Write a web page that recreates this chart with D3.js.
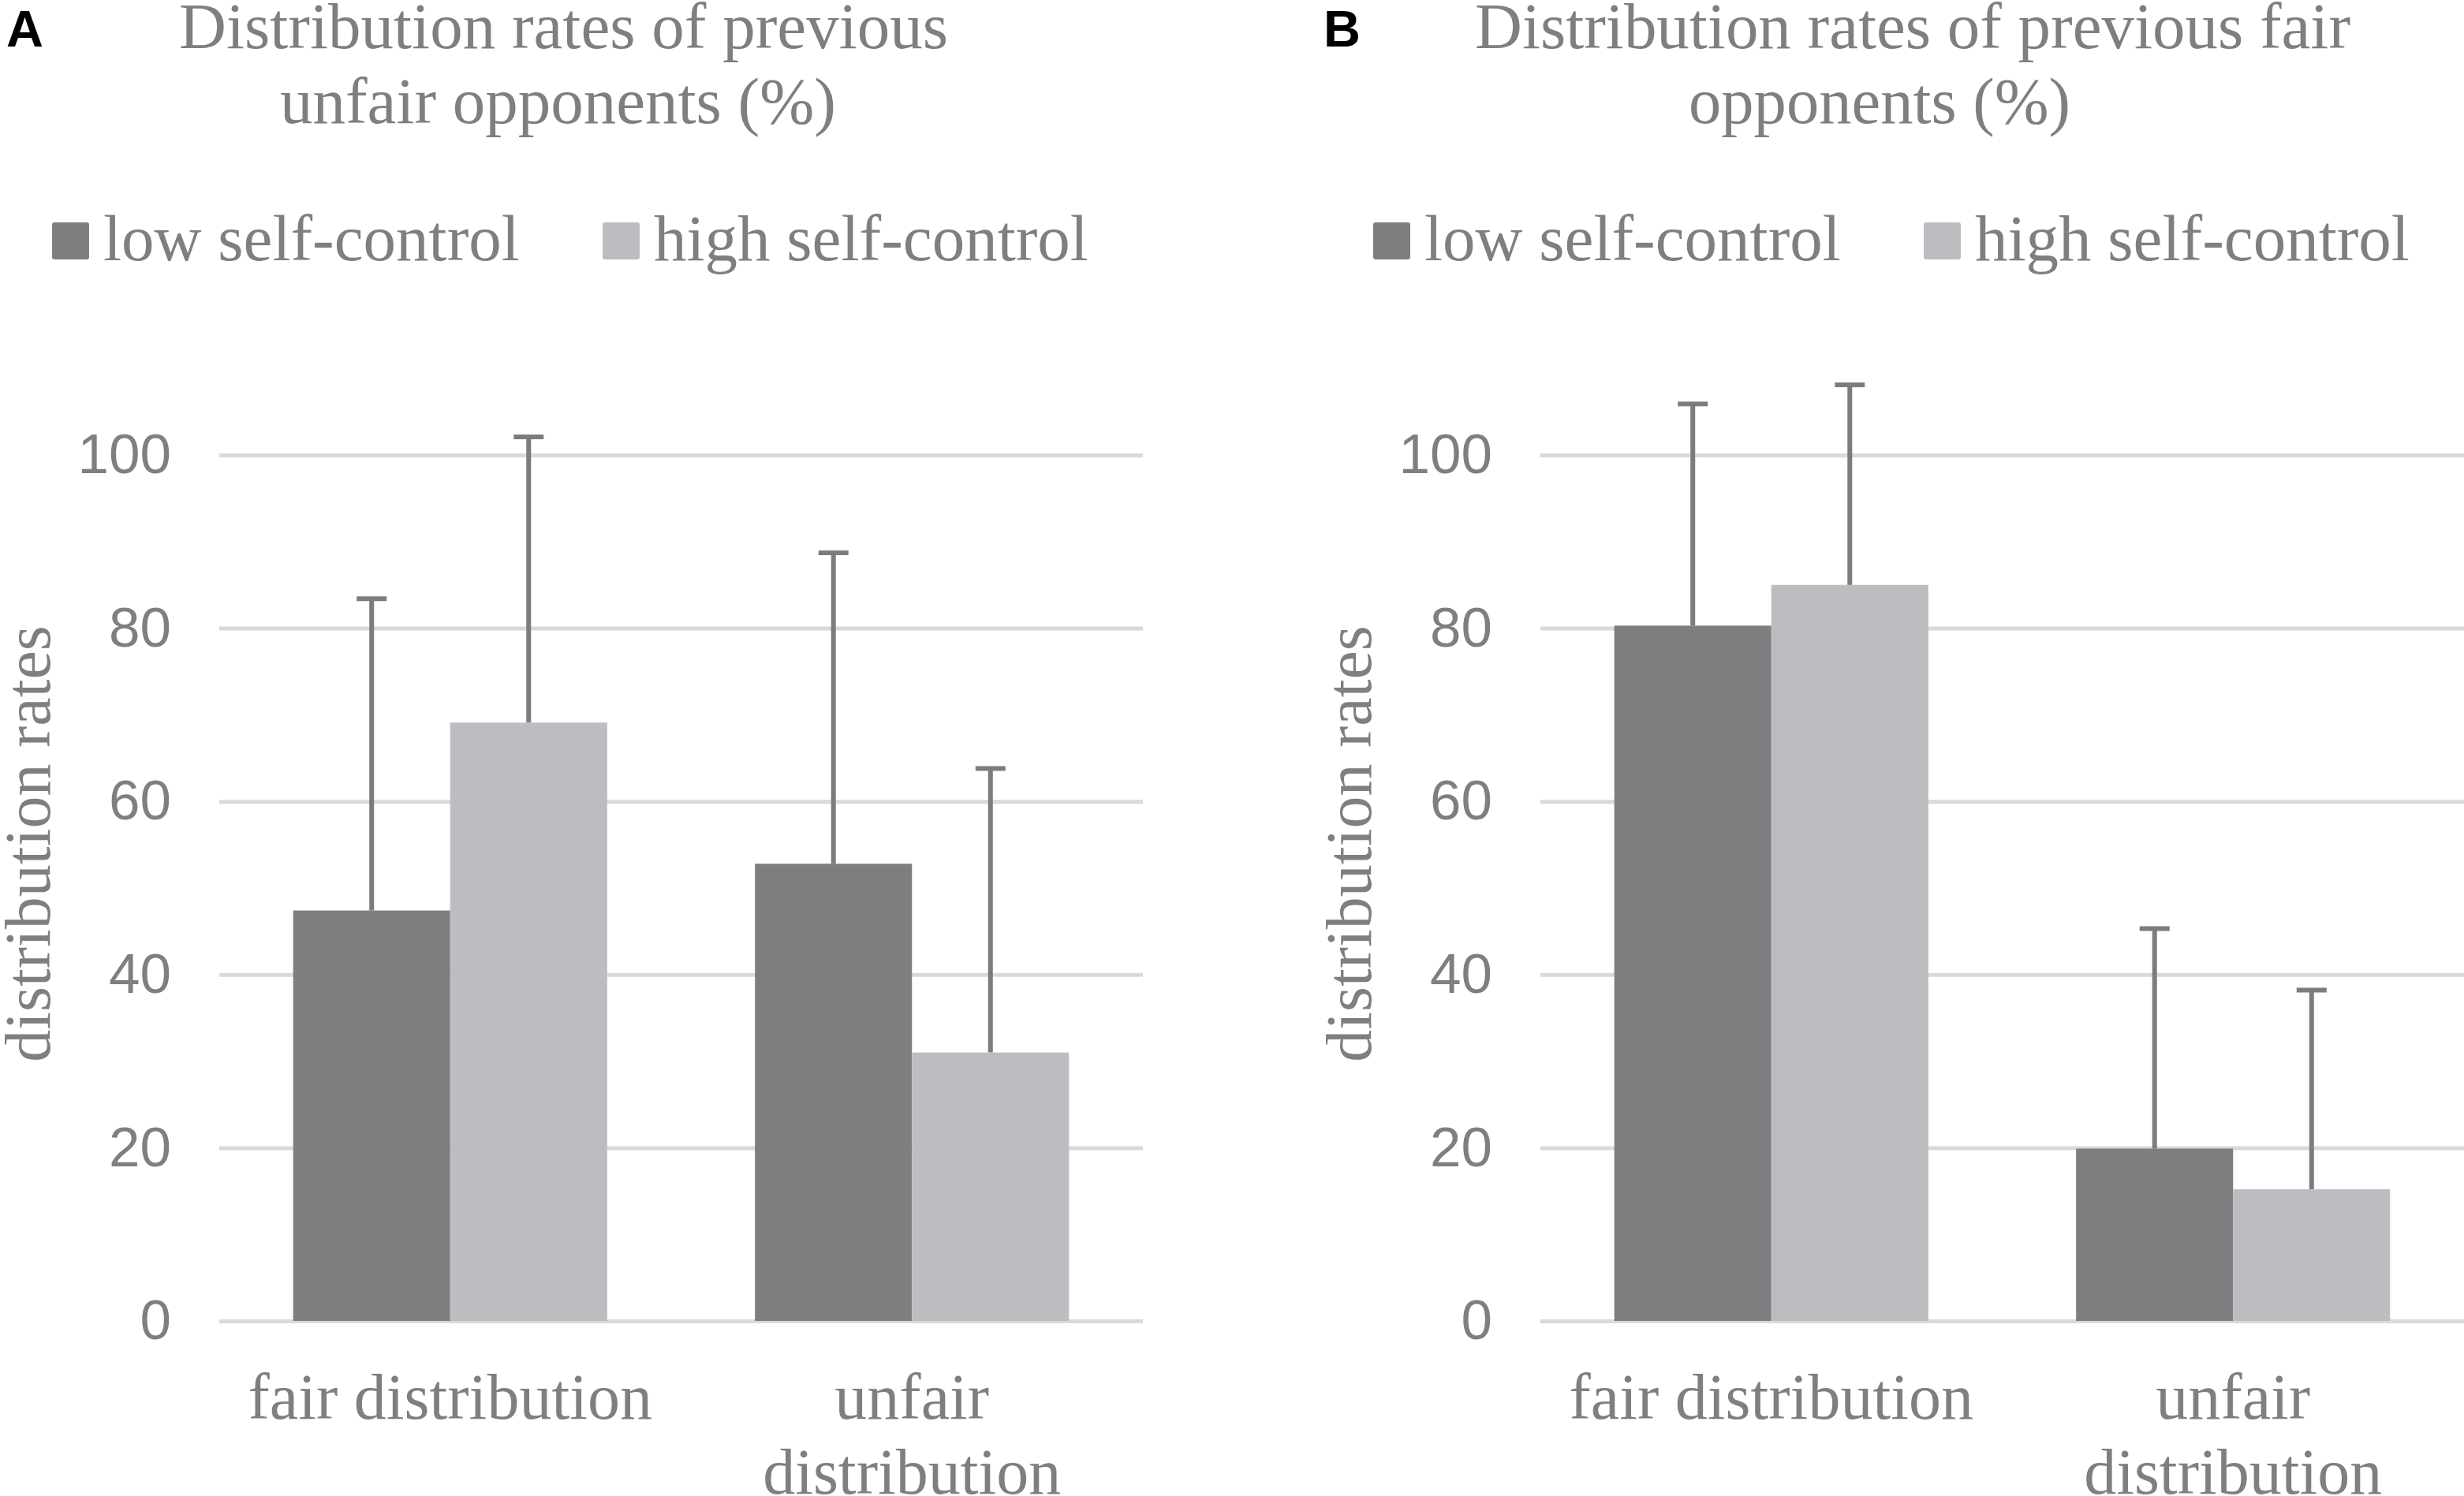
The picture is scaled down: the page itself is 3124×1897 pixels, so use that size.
<!DOCTYPE html>
<html>
<head>
<meta charset="utf-8">
<script src="https://cdn.jsdelivr.net/npm/d3@7"></script>
<style>
    body { margin: 0; background: #fff; }
    svg { display: block; }
</style>
</head>
<body>
<svg id="chart" width="3124" height="1897"></svg>
<script>
(function() {
    'use strict';

    // categories and series
    var categories = ['fair distribution', 'unfair distribution'];
    var categoryLines = [['fair distribution'], ['unfair', 'distribution']];
    var seriesNames = ['low self-control', 'high self-control'];
    var yTicks = [0, 20, 40, 60, 80, 100];

    // A: previous unfair opponents
    var unfairOppLow = [47.4, 52.8];
    var unfairOppHigh = [69.1, 31.0];
    var unfairOppLowErr = [36.0, 35.9];
    var unfairOppHighErr = [33.0, 32.8];

    // B: previous fair opponents
    var fairOppLow = [80.3, 19.9];
    var fairOppHigh = [85.0, 15.2];
    var fairOppLowErr = [25.6, 25.4];
    var fairOppHighErr = [23.1, 23.0];

    var colors = ['#7d7e80', '#bcbdc0'];
    var textColor = '#7f7f7f';
    var serif = '"Liberation Serif", "Times New Roman", serif';
    var sans = '"Liberation Sans", Arial, sans-serif';

    var panels = [
        { letter: 'A', ox: 0, letterX: 8,
          title: [{ t: 'Distribution rates of previous', x: 227, w: 975 },
                  { t: 'unfair opponents (%)', x: 355, w: 705 }],
          low: unfairOppLow, high: unfairOppHigh, lowErr: unfairOppLowErr, highErr: unfairOppHighErr },
        { letter: 'B', ox: 1675, letterX: 1678,
          title: [{ t: 'Distribution rates of previous fair', x: 1870, w: 1110 },
                  { t: 'opponents (%)', x: 2141, w: 484 }],
          low: fairOppLow, high: fairOppHigh, lowErr: fairOppLowErr, highErr: fairOppHighErr }
    ];

    var svg = d3.select('#chart');
    svg.append('rect').attr('width', 3124).attr('height', 1897).attr('fill', '#fff');

    var y = d3.scaleLinear().domain([0, 100]).range([1675, 577]);

    panels.forEach(function(p) {
        var g = svg.append('g');
        var left = 278 + p.ox, right = 1449 + p.ox;

        /* panel letter and title */
        g.append('text')
            .attr('x', p.letterX).attr('y', 59)
            .style('font-family', sans).style('font-weight', 'bold')
            .style('font-size', '65px').attr('fill', '#000')
            .text(p.letter);

        g.selectAll('text.title').data(p.title).enter().append('text')
            .attr('class', 'title')
            .attr('x', function(d) { return d.x; })
            .attr('y', function(d, i) { return 61 + i * 95; })
            .attr('textLength', function(d) { return d.w; })
            .attr('lengthAdjust', 'spacingAndGlyphs')
            .style('font-family', serif).style('font-size', '82px')
            .attr('fill', textColor)
            .text(function(d) { return d.t; });

        /* legend */
        var leg = g.selectAll('g.leg').data(seriesNames).enter().append('g')
            .attr('class', 'leg')
            .attr('transform', function(d, i) { return 'translate(' + (66 + p.ox + i * 698) + ',282)'; });
        leg.append('rect')
            .attr('width', 47).attr('height', 47).attr('rx', 3)
            .attr('fill', function(d, i) { return colors[i]; });
        leg.append('text')
            .attr('x', 65).attr('y', 48)
            .style('font-family', serif).style('font-size', '83px')
            .attr('fill', textColor)
            .text(function(d) { return d; });

        /* y axis with gridlines */
        var yAxis = d3.axisLeft(y)
            .tickValues(yTicks)
            .tickSize(-(right - left))
            .tickPadding(61)
            .tickFormat(d3.format('d'));
        var ag = g.append('g')
            .attr('transform', 'translate(' + left + ',0)')
            .call(yAxis);
        ag.select('.domain').remove();
        ag.selectAll('.tick line').attr('stroke', '#d9d9d9').attr('stroke-width', 5);
        ag.selectAll('.tick text')
            .attr('fill', textColor)
            .style('font-family', sans).style('font-size', '71px');

        g.append('text')
            .attr('transform', 'translate(' + (63 + p.ox) + ',1070) rotate(-90)')
            .attr('text-anchor', 'middle')
            .style('font-family', serif).style('font-size', '82px')
            .attr('fill', textColor)
            .text('distribution rates');

        /* bars */
        var x0 = d3.scaleBand().domain(categories).range([left, right])
            .paddingInner(0.32).paddingOuter(0.16);
        var x1 = d3.scaleBand().domain(seriesNames).range([0, x0.bandwidth()]);

        var rows = categories.map(function(c, i) {
            return { cat: c, vals: [
                { s: seriesNames[0], v: p.low[i], e: p.lowErr[i], c: colors[0] },
                { s: seriesNames[1], v: p.high[i], e: p.highErr[i], c: colors[1] }
            ] };
        });

        var grp = g.selectAll('g.cat').data(rows).enter().append('g')
            .attr('class', 'cat')
            .attr('transform', function(d) { return 'translate(' + x0(d.cat) + ',0)'; });

        grp.selectAll('rect').data(function(d) { return d.vals; }).enter().append('rect')
            .attr('x', function(d) { return x1(d.s); })
            .attr('y', function(d) { return y(d.v); })
            .attr('width', x1.bandwidth())
            .attr('height', function(d) { return y(0) - y(d.v); })
            .attr('fill', function(d) { return d.c; });

        /* upper error bars */
        var eb = grp.selectAll('g.err').data(function(d) { return d.vals; }).enter().append('g')
            .attr('class', 'err')
            .attr('stroke', '#7b7c7f').attr('stroke-width', 6);
        eb.append('line')
            .attr('x1', function(d) { return x1(d.s) + x1.bandwidth() / 2; })
            .attr('x2', function(d) { return x1(d.s) + x1.bandwidth() / 2; })
            .attr('y1', function(d) { return y(d.v); })
            .attr('y2', function(d) { return y(d.v + d.e); });
        eb.append('line')
            .attr('x1', function(d) { return x1(d.s) + x1.bandwidth() / 2 - 19; })
            .attr('x2', function(d) { return x1(d.s) + x1.bandwidth() / 2 + 19; })
            .attr('y1', function(d) { return y(d.v + d.e); })
            .attr('y2', function(d) { return y(d.v + d.e); });

        /* category labels */
        var lab = g.selectAll('text.cat').data(categories).enter().append('text')
            .attr('class', 'cat')
            .attr('text-anchor', 'middle')
            .style('font-family', serif).style('font-size', '82px')
            .attr('fill', textColor);
        lab.selectAll('tspan').data(function(d, i) { return categoryLines[i].map(function(t) { return { t: t, c: d }; }); })
            .enter().append('tspan')
            .attr('x', function(d) { return x0(d.c) + x0.bandwidth() / 2; })
            .attr('y', function(d, i) { return 1799 + i * 95; })
            .text(function(d) { return d.t; });
    });
})();
</script>
</body>
</html>
